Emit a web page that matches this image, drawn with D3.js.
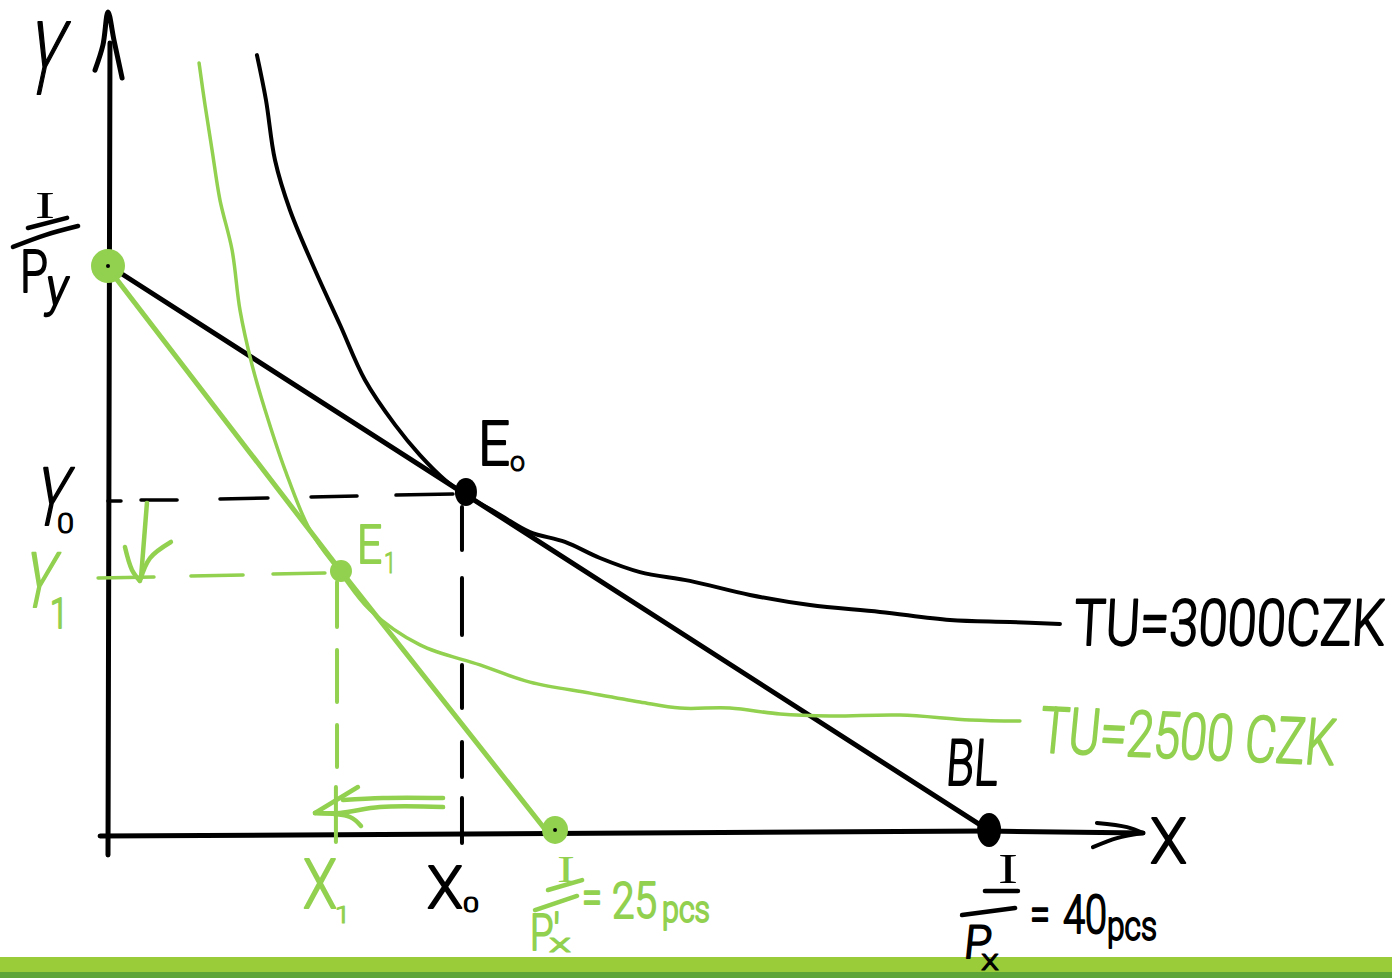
<!DOCTYPE html>
<html><head><meta charset="utf-8">
<style>html,body{margin:0;padding:0;background:#fff;overflow:hidden}svg{display:block}</style>
<script src="https://cdn.jsdelivr.net/npm/d3@7/dist/d3.min.js"></script></head>
<body><svg id="c" width="1392" height="978"></svg>
<script>
// ---- data (in goods units) ----
const tu3000 = [[6.77,35.45],[7.18,33.41],[7.59,30.68],[8.27,28.41],[9.41,25.68],[10.55,23.18],[11.68,20.68],[13.05,18.64],[14.18,17.27],[15.32,16.14],[16.27,15.45],[17.82,14.55],[19.18,13.77],[20.77,13.32],[22.36,12.59],[24.18,11.95],[26.45,11.55],[29.18,10.91],[31.91,10.45],[35.09,10.14],[38.27,9.77],[41.0,9.68],[43.27,9.59]];
const tu2500 = [[4.14,35.09],[4.41,33.18],[4.73,31.14],[5.09,28.86],[5.64,26.59],[6.0,23.86],[6.55,21.36],[7.14,19.32],[8.05,16.59],[9.18,13.86],[10.55,11.95],[11.91,10.23],[14.18,8.64],[16.91,7.73],[19.18,6.95],[21.91,6.45],[24.18,6.05],[26.0,5.77],[28.27,5.77],[30.55,5.5],[32.82,5.41],[36.0,5.45],[39.18,5.23],[41.45,5.18]];
const budgetLine = [[0,25.91],[40,0.23]];
const budgetLineNew = [[0,25.77],[10.55,12.05],[20,0.09]];
const yAxisLine = [[0,-0.91],[0.09,36]];
const yAxisHead = [[-0.59,34.77],[-0.23,35.91],[0,37.41],[0.27,36.14],[0.64,34.41]];
const xAxisLine = [[-0.36,-0.05],[40,0.18],[47.05,0.09]];
const xAxisHead = [[[44.95,0.55],[46.32,0.36],[47.05,0.09]],[[47.05,0.09],[45.86,-0.14],[44.77,-0.55]]];
const dashY0 = [[[0,15.18],[0.59,15.18]],[[1.5,15.23],[3.14,15.23]],[[5.09,15.27],[7.27,15.32]],[[9.23,15.36],[11.32,15.41]],[[13.09,15.45],[15.68,15.5]]];
const dashX0 = [[[16.09,14.91],[16.09,12.95]],[[16.09,11.68],[16.09,9.09]],[[16.09,7.73],[16.09,5.77]],[[16.09,4.23],[16.09,2.64]],[[16.09,1.68],[16.09,-0.36]]];
const dashY1 = [[[-0.45,11.68],[2.09,11.73]],[[3.77,11.77],[6.14,11.82]],[[7.5,11.86],[9.86,11.91]]];
const dashX1 = [[[10.41,11.5],[10.41,9.45]],[[10.41,8.41],[10.41,6.05]],[[10.41,5.0],[10.41,3.09]],[[10.36,2.18],[10.36,-0.32]]];
const arrowDown = [[[1.77,15.09],[1.5,11.68]],[[0.77,13.09],[1.09,12.05],[1.45,11.55]],[[2.86,13.32],[1.91,12.59],[1.45,11.55]]];
const arrowLeft = [[[15.23,1.68],[12.5,1.68],[10.68,1.59]],[[15.23,1.27],[12.36,1.27],[10.55,1.0],[9.41,1.0]],[[11.36,2.18],[9.41,1.0]],[[9.41,1.0],[11,0.82],[11.5,0.41]]];
const points = {E0:[16.27,15.59],E1:[10.59,12],px:[40.05,0.23],pxNew:[20.32,0.23],py:[0,25.86]};
const barsBlack = [[[-3.64,27.59],[-1.86,28.05]],[[-4.32,26.73],[-2.86,27.27],[-1.36,27.68]],[[39.86,-2.55],[41.36,-2.55]],[[38.82,-3.64],[41.23,-3.32]]];
const barsGreen = [[[20,-2.5],[21.55,-2.05]],[[19.41,-3.41],[21.32,-2.77]]];

// ---- layout ----
const black="#000", green="#92d050";
const x=d3.scaleLinear().domain([0,40]).range([108,988]);
const y=d3.scaleLinear().domain([0,26]).range([835,263]);
const svg=d3.select("#c");
svg.append("rect").attr("x",0).attr("y",0).attr("width",1392).attr("height",978).attr("fill","#fff");
svg.append("rect").attr("x",0).attr("y",957).attr("width",1392).attr("height",15).attr("fill","#9acb38");
svg.append("rect").attr("x",0).attr("y",972).attr("width",1392).attr("height",6).attr("fill","#5da536");

const smooth=d3.line().x(d=>x(d[0])).y(d=>y(d[1])).curve(d3.curveCatmullRom.alpha(.5));
const straight=d3.line().x(d=>x(d[0])).y(d=>y(d[1]));
function draw(pts,gen,col,w){svg.append("path").attr("d",gen(pts)).attr("fill","none").attr("stroke",col).attr("stroke-width",w).attr("stroke-linecap","round").attr("stroke-linejoin","round");}

draw(yAxisLine,straight,black,5);
draw(yAxisHead,smooth,black,5);
draw(xAxisLine,straight,black,5);
xAxisHead.forEach(h=>draw(h,smooth,black,4));
dashY0.forEach(s=>draw(s,straight,black,3.5));
dashX0.forEach(s=>draw(s,straight,black,4));
draw(tu3000,smooth,black,4);
draw(budgetLine,straight,black,5);
dashY1.forEach(s=>draw(s,straight,green,3.5));
dashX1.forEach(s=>draw(s,straight,green,4));
draw(tu2500,smooth,green,3.5);
draw(budgetLineNew,straight,green,5);
arrowDown.forEach(s=>draw(s,smooth,green,4.5));
arrowLeft.forEach(s=>draw(s,smooth,green,4.5));
barsBlack.forEach(s=>draw(s,smooth,black,4.5));
barsGreen.forEach(s=>draw(s,smooth,green,4.5));

function dot(p,rx,ry,col){svg.append("ellipse").attr("cx",x(p[0])).attr("cy",y(p[1])).attr("rx",rx).attr("ry",ry).attr("fill",col);}
dot(points.E0,11,14,black);
dot(points.px,12,17,black);
dot(points.E1,11,11,green);
dot(points.pxNew,13,14,green);
dot(points.py,17,17,green);
dot(points.py,2,2,black);
dot(points.pxNew,2,2,black);

// ---- labels: text, left, baseline, cap height, ink width, colour, slant, rotation ----
const labels=[
 ["Y",22,94,73,34,black,-12,0],
 ["I",35,218,28,20,black,0,0,"Liberation Serif"],
 ["P",20,292,42,28,black,0,0],
 ["y",44,305,28,22,black,-8,0],
 ["Y",31,525,58,32,black,-12,0],
 ["0",57,533,20,17,black,0,0],
 ["Y",20,607,55,30,green,-12,0],
 ["1",50,628,30,18,green,0,0],
 ["E",478,465,44,32,black,0,0],
 ["o",510,471,15,15,black,0,0],
 ["E",357,563,38,25,green,0,0],
 ["1",384,573,21,12,green,0,0],
 ["TU=3000CZK",1073,645,46,311,black,-3,0],
 ["TU=2500 CZK",1038,752,46,296,green,-3,2.5],
 ["BL",945,785,46,52,black,-4,0],
 ["X",1150,863,46,37,black,0,0],
 ["X",303,908,50,34,green,0,0],
 ["1",335,923,17,15,green,0,0],
 ["X",427,908,43,36,black,0,0],
 ["0",463,912,15,16,black,0,0],
 ["I",557,882,27,18,green,0,0,"Liberation Serif"],
 ["P'",530,950,36,30,green,0,0],
 ["x",549,952,14,22,green,0,0],
 ["=",582,914,36,20,green,0,0],
 ["25",612,918,36,45,green,0,0],
 ["pcs",662,922,20,48,green,0,0],
 ["I",998,883,30,20,black,0,0,"Liberation Serif"],
 ["P",963,958,33,27,black,-6,0],
 ["x",981,970,16,18,black,0,0],
 ["=",1030,931,36,20,black,0,0],
 ["40",1063,933,38,44,black,0,0],
 ["pcs",1107,940,22,50,black,0,0]
];
labels.forEach(([t,lx,by,h,w,col,sk,rot,font])=>{
  const lower=/^[a-z]+$/.test(t);
  const fs=h/(lower?0.53:0.72);
  const el=svg.append("text").text(t)
    .attr("font-family",font||"Roboto")
    .attr("font-weight",font?400:300)
    .attr("font-size",fs)
    .attr("fill",col);
  if(!font) el.attr("stroke",col).attr("stroke-linejoin","round").attr("stroke-width",fs<35?1.2:2);
  const sx=w/el.node().getComputedTextLength();
  el.attr("transform",`translate(${lx},${by}) rotate(${rot}) skewX(${sk}) scale(${sx},1)`);
});
</script></body></html>
